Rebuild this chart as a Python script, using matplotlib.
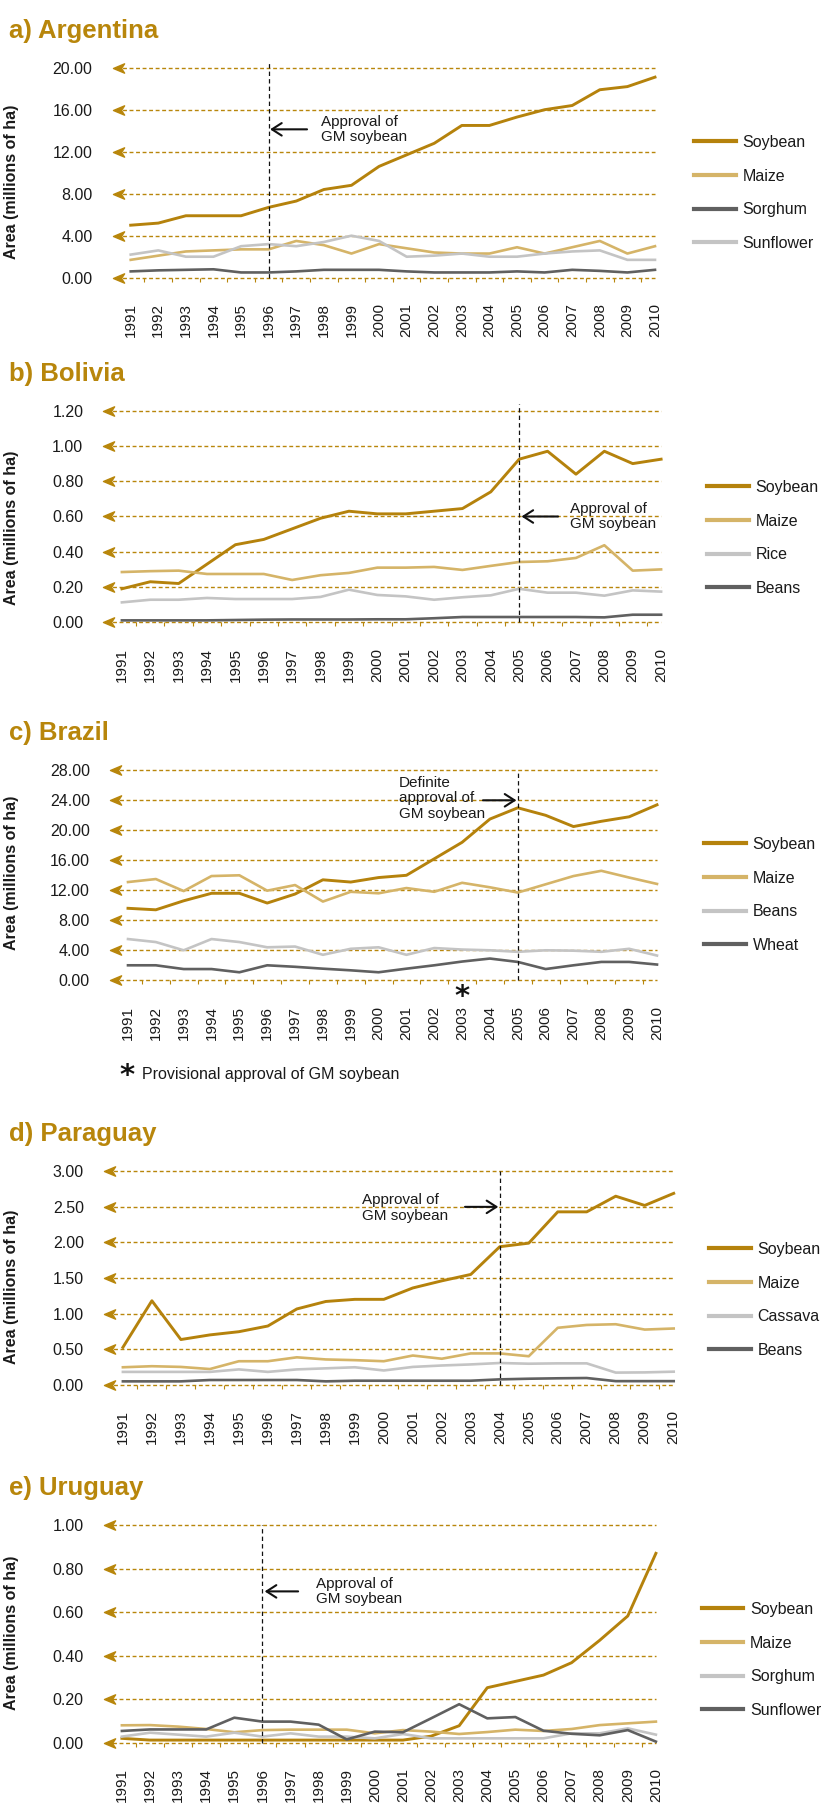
import matplotlib
matplotlib.use('Agg')
import matplotlib.pyplot as plt
from matplotlib import font_manager as fm
from matplotlib.path import Path
from matplotlib.lines import Line2D
from matplotlib.patches import FancyArrowPatch

# ---- data (millions of ha) ----
years = list(range(1991, 2011))

arg_soybean = [5.0, 5.2, 5.9, 5.9, 5.9, 6.7, 7.3, 8.4, 8.8, 10.6, 11.7, 12.8, 14.5, 14.5, 15.3, 16.0, 16.4, 17.9, 18.2, 19.1]
arg_maize = [1.7, 2.1, 2.5, 2.6, 2.7, 2.7, 3.5, 3.1, 2.3, 3.2, 2.8, 2.4, 2.3, 2.3, 2.9, 2.3, 2.9, 3.5, 2.3, 3.0]
arg_sorghum = [0.6, 0.7, 0.75, 0.8, 0.5, 0.5, 0.6, 0.75, 0.75, 0.75, 0.6, 0.5, 0.5, 0.5, 0.6, 0.5, 0.75, 0.65, 0.5, 0.75]
arg_sunflower = [2.2, 2.6, 2.0, 2.0, 3.0, 3.2, 3.0, 3.4, 4.0, 3.5, 2.0, 2.1, 2.3, 2.0, 2.0, 2.3, 2.5, 2.6, 1.7, 1.7]

bol_soybean = [0.19, 0.23, 0.22, 0.33, 0.44, 0.47, 0.53, 0.59, 0.63, 0.615, 0.615, 0.63, 0.645, 0.74, 0.925, 0.97, 0.84, 0.97, 0.90, 0.925]
bol_maize = [0.285, 0.29, 0.293, 0.274, 0.274, 0.274, 0.24, 0.267, 0.28, 0.31, 0.31, 0.314, 0.297, 0.32, 0.342, 0.346, 0.365, 0.437, 0.293, 0.30]
bol_rice = [0.113, 0.128, 0.128, 0.138, 0.132, 0.132, 0.132, 0.144, 0.185, 0.155, 0.147, 0.128, 0.142, 0.153, 0.19, 0.168, 0.168, 0.151, 0.181, 0.174]
bol_beans = [0.011, 0.011, 0.011, 0.011, 0.013, 0.015, 0.016, 0.016, 0.016, 0.017, 0.017, 0.023, 0.03, 0.03, 0.03, 0.03, 0.03, 0.028, 0.043, 0.043]

bra_soybean = [9.6, 9.4, 10.6, 11.6, 11.6, 10.3, 11.5, 13.4, 13.1, 13.7, 14.0, 16.2, 18.4, 21.5, 23.0, 22.0, 20.5, 21.2, 21.8, 23.4]
bra_maize = [13.1, 13.5, 11.9, 13.9, 14.0, 11.95, 12.7, 10.5, 11.8, 11.6, 12.3, 11.8, 13.0, 12.4, 11.7, 12.8, 13.9, 14.6, 13.7, 12.85]
bra_beans = [5.5, 5.1, 4.0, 5.5, 5.1, 4.4, 4.5, 3.4, 4.2, 4.4, 3.4, 4.3, 4.1, 4.0, 3.8, 4.0, 3.95, 3.8, 4.2, 3.3]
bra_wheat = [2.0, 2.0, 1.5, 1.5, 1.07, 2.0, 1.8, 1.55, 1.33, 1.07, 1.55, 2.0, 2.5, 2.9, 2.45, 1.5, 2.0, 2.45, 2.45, 2.1]

par_soybean = [0.525, 1.18, 0.635, 0.70, 0.745, 0.825, 1.065, 1.17, 1.20, 1.20, 1.36, 1.46, 1.55, 1.94, 1.99, 2.43, 2.43, 2.65, 2.52, 2.69]
par_maize = [0.245, 0.26, 0.25, 0.22, 0.33, 0.33, 0.385, 0.355, 0.345, 0.33, 0.41, 0.365, 0.44, 0.44, 0.40, 0.80, 0.84, 0.85, 0.775, 0.79]
par_cassava = [0.18, 0.18, 0.18, 0.18, 0.215, 0.18, 0.215, 0.23, 0.245, 0.20, 0.25, 0.27, 0.285, 0.305, 0.295, 0.30, 0.30, 0.17, 0.173, 0.183]
par_beans = [0.047, 0.047, 0.047, 0.066, 0.066, 0.066, 0.066, 0.047, 0.056, 0.056, 0.056, 0.056, 0.056, 0.075, 0.084, 0.09, 0.094, 0.05, 0.05, 0.05]

uru_soybean = [0.02, 0.012, 0.012, 0.012, 0.012, 0.012, 0.012, 0.012, 0.012, 0.012, 0.012, 0.03, 0.078, 0.253, 0.282, 0.311, 0.368, 0.471, 0.583, 0.871]
uru_maize = [0.08, 0.081, 0.074, 0.063, 0.048, 0.058, 0.06, 0.06, 0.06, 0.043, 0.058, 0.051, 0.04, 0.049, 0.06, 0.054, 0.063, 0.081, 0.089, 0.097]
uru_sorghum = [0.028, 0.046, 0.037, 0.028, 0.046, 0.028, 0.043, 0.028, 0.028, 0.02, 0.04, 0.02, 0.02, 0.02, 0.02, 0.02, 0.043, 0.043, 0.066, 0.037]
uru_sunflower = [0.054, 0.061, 0.061, 0.061, 0.115, 0.097, 0.097, 0.083, 0.015, 0.051, 0.048, 0.112, 0.177, 0.112, 0.118, 0.055, 0.041, 0.034, 0.058, 0.005]

arg_ticks = [0, 4, 8, 12, 16, 20]
bol_ticks = [0, 0.2, 0.4, 0.6, 0.8, 1.0, 1.2]
bra_ticks = [0, 4, 8, 12, 16, 20, 24, 28]
par_ticks = [0, 0.5, 1.0, 1.5, 2.0, 2.5, 3.0]
uru_ticks = [0, 0.2, 0.4, 0.6, 0.8, 1.0]

# ---- style ----
GOLD = '#B8860B'
SOY = '#B5820C'
MAIZE = '#D5B468'
LIGHT = '#C4C4C4'
DARK = '#606060'

names = {f.name for f in fm.fontManager.ttflist}
NARROW = 'Liberation Sans Narrow' if 'Liberation Sans Narrow' in names else 'Liberation Sans'
SANS = 'Liberation Sans'
plt.rcParams['font.family'] = [SANS, 'DejaVu Sans']

W, H = 821, 1805
fig = plt.figure(figsize=(W / 100, H / 100), dpi=100)

# notched left arrow head used at the start of each gridline
arrow_head = Path([(0, 0), (1, 0.42), (0.72, 0), (1, -0.42), (0, 0)],
                  [Path.MOVETO, Path.LINETO, Path.LINETO, Path.LINETO, Path.CLOSEPOLY])

panels = [
    dict(title='a) Argentina', box=(130.7, 655.0, 67.7, 277.7), ticks=arg_ticks,
         series=[('Soybean', arg_soybean, SOY), ('Maize', arg_maize, MAIZE),
                 ('Sorghum', arg_sorghum, DARK), ('Sunflower', arg_sunflower, LIGHT)],
         leg=(694, 193), ylab=182, vline=(1996, 20.57),
         arrow=((1997.39, 14.13), (1996.05, 14.13)), note=(1997.88, 14.13, 'Approval of\nGM soybean')),
    dict(title='b) Bolivia', box=(121.9, 661.1, 410.7, 622.3), ticks=bol_ticks,
         series=[('Soybean', bol_soybean, SOY), ('Maize', bol_maize, MAIZE),
                 ('Rice', bol_rice, LIGHT), ('Beans', bol_beans, DARK)],
         leg=(707, 538), ylab=528, vline=(2005, 1.239),
         arrow=((2006.37, 0.60), (2005.08, 0.60)), note=(2006.8, 0.60, 'Approval of\nGM soybean')),
    dict(title='c) Brazil', box=(128.0, 657.0, 770.3, 980.3), ticks=bra_ticks,
         series=[('Soybean', bra_soybean, SOY), ('Maize', bra_maize, MAIZE),
                 ('Beans', bra_beans, LIGHT), ('Wheat', bra_wheat, DARK)],
         leg=(704, 895), ylab=873, vline=(2005, 28.0),
         arrow=((2003.75, 24.0), (2004.95, 24.0)), note=(2000.74, 24.27, 'Definite\napproval of\nGM soybean')),
    dict(title='d) Paraguay', box=(122.9, 673.7, 1171.3, 1384.7), ticks=par_ticks,
         series=[('Soybean', par_soybean, SOY), ('Maize', par_maize, MAIZE),
                 ('Cassava', par_cassava, LIGHT), ('Beans', par_beans, DARK)],
         leg=(709, 1300), ylab=1287, vline=(2004, 3.0),
         arrow=((2002.8, 2.5), (2003.95, 2.5)), note=(1999.24, 2.48, 'Approval of\nGM soybean')),
    dict(title='e) Uruguay', box=(121.9, 655.9, 1525.3, 1742.7), ticks=uru_ticks,
         series=[('Soybean', uru_soybean, SOY), ('Maize', uru_maize, MAIZE),
                 ('Sorghum', uru_sorghum, LIGHT), ('Sunflower', uru_sunflower, DARK)],
         leg=(701.5, 1660), ylab=1633, vline=(1996, 1.0),
         arrow=((1997.27, 0.696), (1996.08, 0.696)), note=(1997.92, 0.695, 'Approval of\nGM soybean')),
]

for p in panels:
    x_first, x_last, y_top, y_bot = p['box']
    step = (x_last - x_first) / (years[-1] - years[0])
    x0 = x_first - 0.65 * step
    ax = fig.add_axes([x0 / W, 1 - y_bot / H, (x_last - x0) / W, (y_bot - y_top) / H])
    ax.set_xlim(years[0] - 0.65, years[-1])
    ymax = p['ticks'][-1]
    ax.set_ylim(0, ymax)
    for s in ax.spines.values():
        s.set_visible(False)

    # title
    fig.text(9 / W, 1 - (y_top - 30) / H, p['title'], fontsize=18.5, fontweight='bold',
             family=NARROW, color=GOLD, ha='left', va='baseline')

    # gridlines with arrow heads
    ax.hlines(p['ticks'], years[0] - 0.55, years[-1], colors=GOLD, lw=1.0,
              linestyles=(0, (2.8, 1.9)), clip_on=False, zorder=1)
    ax.plot([years[0] - 0.65] * len(p['ticks']), p['ticks'], ls='none', marker=arrow_head,
            ms=16, color=GOLD, clip_on=False, zorder=2)

    ax.set_yticks(p['ticks'])
    ax.set_yticklabels(['{:.2f}'.format(t) for t in p['ticks']])
    ax.tick_params(axis='y', length=0, pad=14.5, labelsize=11.5, labelcolor='#1a1a1a')
    ax.set_xticks(years)
    ax.set_xticklabels([str(y) for y in years], rotation=90, va='top')
    ax.set_xticks([y + 0.5 for y in years[:-1]], minor=True)
    ax.tick_params(axis='x', which='major', length=0, pad=18.5, labelsize=11, labelcolor='#1a1a1a')
    ax.tick_params(axis='x', which='minor', length=3, width=0.8, color=GOLD, direction='out')

    handles = []
    for name, vals, col in p['series']:
        lw = 2.1 if name == 'Soybean' else 1.9
        ax.plot(years, vals, color=col, lw=lw, solid_joinstyle='round', clip_on=False, zorder=3)
        handles.append(Line2D([], [], color=col, lw=3.0))

    # approval marker: dashed year line, arrow and note
    vx, vtop = p['vline']
    ax.plot([vx, vx], [0, vtop], color='#111111', lw=0.9, ls=(0, (3.5, 2.5)), clip_on=False, zorder=4)
    start, end = p['arrow']
    ax.add_patch(FancyArrowPatch(start, end, arrowstyle='->,head_length=0.7,head_width=0.45',
                                 mutation_scale=10, lw=1.5, color='#111111',
                                 shrinkA=0, shrinkB=0, clip_on=False, zorder=5))
    nx, ny, ntext = p['note']
    ax.text(nx, ny, ntext, fontsize=11, ha='left', va='center', linespacing=1.15,
            color='#1a1a1a', zorder=5)

    fig.text(11.5 / W, 1 - p['ylab'] / H, 'Area (millions of ha)', rotation=90, fontsize=11.5,
             fontweight='bold', ha='center', va='center', color='#1a1a1a')

    lx, ly = p['leg']
    fig.legend(handles, [s[0] for s in p['series']], loc='center left',
               bbox_to_anchor=(lx / W, 1 - ly / H), frameon=False, fontsize=11.5,
               handlelength=2.6, handletextpad=0.45, labelspacing=1.17,
               borderpad=0, borderaxespad=0, labelcolor='#1a1a1a')

    if p['title'] == 'c) Brazil':
        # mathtext asterisk keeps a tight box just above the 2003 label
        ax.text(2003, -1.9, r'$\mathbf{*}$', fontsize=21, ha='center', va='center',
                color='#111111', clip_on=False)
        fig.text(127 / W, 1 - 1074 / H, r'$\mathbf{*}$', fontsize=21, ha='center', va='center',
                 color='#111111')
        fig.text(142 / W, 1 - 1074 / H, 'Provisional approval of GM soybean', fontsize=11.5,
                 ha='left', va='center', color='#1a1a1a')

fig.savefig('out.png', dpi=100)
